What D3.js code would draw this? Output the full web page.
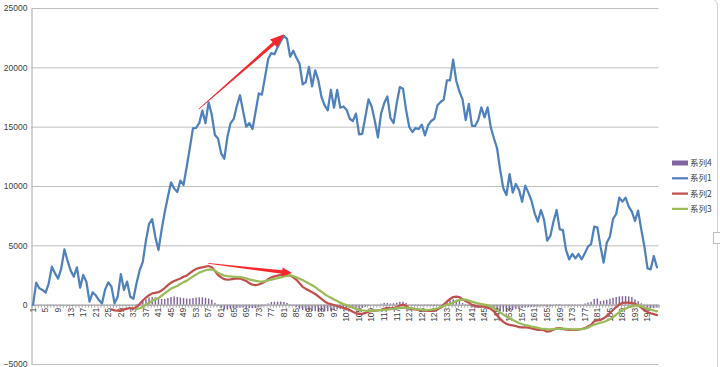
<!DOCTYPE html>
<html>
<head>
<meta charset="utf-8">
<script src="https://cdn.jsdelivr.net/npm/d3@7/dist/d3.min.js"></script>
<style>
body{margin:0;background:#fff}
svg{display:block}
text{font-family:"Liberation Sans",Arial,sans-serif}
</style>
</head>
<body>
<svg id="chart" width="720" height="367"></svg>
<script>
// categories 1..200
var cats = d3.range(1, 201);

// 系列1 (blue), cat 1..200
var s1 = [
0,1850,1380,1240,1010,1800,3200,2640,2190,3060,
4660,3700,2870,2360,3150,1430,2500,1940,250,1040,
790,390,110,1290,1880,1520,110,670,2580,1240,
1940,670,500,1800,2900,3600,5400,6800,7200,5700,
4600,6300,7800,9100,10300,9800,9500,10450,10100,11600,
13200,14850,14900,15300,16350,15300,17050,16000,14300,14000,
12750,12300,14150,15300,15650,16750,17650,16300,15000,15300,
14800,16300,17800,17700,19200,20700,21200,21100,21700,22200,
22650,22400,20900,21400,20800,20300,18570,18760,20030,18400,
19750,18900,17500,16800,16380,18100,16600,18100,16600,16700,
16430,15670,15480,16100,14350,14400,15840,17300,16700,15500,
14100,16100,16970,17550,15730,15300,16970,18340,18200,16380,
14970,14550,14890,14800,15170,14270,15100,15480,15670,16800,
17080,17280,18900,18900,20650,18850,17950,17300,15550,16920,
15060,15060,15560,16630,15790,16630,14940,14020,13180,11350,
9800,9240,11010,9440,10170,9660,8680,10030,9440,8740,
7700,7000,7980,7140,5400,5790,7000,7980,6350,6290,
4610,3820,4270,3900,4270,3820,4330,4890,5110,6570,
6520,4890,3540,5220,5730,7220,7640,9020,8680,9020,
8260,7840,7050,7920,6350,4890,3060,2980,4100,3150
];

// 系列2 (red), starts at cat 26
var s2Start = 26;
var s2 = [
-400,-480,-500,-480,-400,-330,-280,-330,-200,50,
350,600,800,950,1000,1050,1200,1400,1650,1850,
2000,2100,2200,2350,2450,2650,2850,3000,3100,3150,
3200,3260,3150,2850,2500,2300,2150,2100,2130,2180,
2220,2200,2100,2000,1800,1680,1650,1700,1800,1950,
2150,2300,2380,2450,2520,2560,2500,2450,2300,2100,
1800,1500,1330,1200,1050,900,700,480,270,120,
40,-30,-110,-190,-270,-340,-450,-600,-720,-780,
-770,-690,-600,-530,-510,-490,-450,-350,-270,-310,
-270,-220,-60,0,-100,-300,-370,-400,-440,-480,
-500,-520,-520,-500,-400,-250,0,250,480,640,
680,640,450,300,170,-20,-100,-160,-170,-170,
-250,-350,-560,-900,-1200,-1450,-1620,-1710,-1750,-1800,
-1900,-1910,-1920,-1940,-2000,-2060,-2120,-2130,-2150,-2280,
-2230,-2100,-2000,-1970,-2040,-2100,-2130,-2130,-2130,-2100,
-2050,-1980,-1850,-1700,-1400,-1330,-1290,-1150,-950,-700,
-450,-200,20,150,170,170,130,80,-60,-250,
-480,-620,-720,-800,-880
];

// 系列3 (green), starts at cat 34
var s3Start = 34;
var s3 = [
-370,-300,-200,0,150,330,450,550,750,950,
1150,1350,1470,1570,1750,1900,2020,2200,2380,2530,
2700,2800,2900,2950,2980,2870,2700,2550,2450,2400,
2380,2350,2340,2320,2280,2220,2130,2070,2010,1970,
1940,1990,2050,2110,2170,2230,2300,2380,2430,2470,
2400,2300,2180,2070,1920,1790,1640,1480,1270,1090,
880,720,580,430,300,170,60,-40,-150,-260,
-360,-430,-470,-500,-520,-530,-510,-470,-450,-430,
-410,-380,-350,-300,-270,-250,-260,-280,-320,-360,
-390,-410,-430,-450,-420,-380,-300,-200,-110,-20,
60,180,300,380,430,420,350,250,170,100,
50,0,-60,-150,-290,-480,-650,-830,-1000,-1150,
-1300,-1420,-1550,-1650,-1720,-1770,-1840,-1900,-1960,-2020,
-2050,-2070,-2080,-2060,-2040,-2020,-2020,-2040,-2060,-2080,
-2080,-2080,-2070,-2020,-1940,-1800,-1680,-1600,-1520,-1460,
-1350,-1220,-1050,-850,-620,-430,-320,-220,-140,-90,
-60,-140,-240,-330,-420,-490,-560
];

// 系列4 (purple columns), starts at cat 34
var s4Start = 34;
var s4 = [
50,150,300,450,600,650,620,580,480,480,
560,650,700,650,600,560,520,520,560,600,
620,620,580,520,420,150,-100,-300,-400,-420,
-380,-320,-280,-250,-250,-270,-300,-300,-280,-220,
-150,-50,100,220,250,260,260,230,150,50,
-80,-200,-350,-450,-500,-500,-520,-550,-580,-600,
-580,-560,-520,-450,-400,-360,-320,-280,-260,-300,
-330,-320,-280,-180,-80,0,20,30,80,150,
160,100,120,160,250,250,150,-20,-60,-60,
-70,-80,-80,-80,-100,-120,-100,-50,100,250,
380,450,420,330,150,50,-100,-250,-270,-260,
-220,-200,-200,-220,-300,-450,-550,-600,-600,-560,
-450,-380,-350,-280,-230,-200,-180,-170,-160,-130,
-120,-200,-150,-50,50,60,20,-50,-70,-60,
-50,-30,20,100,180,250,480,520,300,350,
420,500,580,650,700,720,720,700,650,450,
300,120,-150,-250,-300,-300,-250
];

var yTicks = [-5000, 0, 5000, 10000, 15000, 20000, 25000];
var xLabelCats = cats.filter(function(c){ return (c - 1) % 4 == 0; });
var legendNames = ["系列4", "系列1", "系列2", "系列3"];
var legendColors = ["#8064A2", "#4F81BD", "#C0504D", "#9BBB59"];

// red arrows drawn on the chart: [cat, value] start and end
var arrowFrom = [[53.9, 16490], [56.9, 3480]];
var arrowTo   = [[81.1, 22780], [83.6, 2660]];

var svg = d3.select("#chart");

var plotL = 31.5, plotR = 658.5, plotT = 8, plotB = 364;

var x = d3.scaleLinear().domain([0.5, 200.5]).range([plotL, plotR]);
var xb = d3.scaleBand().domain(cats).range([plotL, plotR]).paddingInner(0.55).paddingOuter(0.275);
var y = d3.scaleLinear().domain([-5000, 25000]).range([plotB, plotT]);

// chart border
svg.append("rect")
	.attr("x", -10).attr("y", -2)
	.attr("width", 727.5).attr("height", 380)
	.attr("rx", 8)
	.attr("fill", "none")
	.attr("stroke", "#D0D0D0");
svg.append("rect")
	.attr("x", 713.5).attr("y", 232.5)
	.attr("width", 8).attr("height", 11)
	.attr("fill", "#fff")
	.attr("stroke", "#BFBFBF");

// gridlines
svg.append("g")
	.attr("transform", "translate(" + plotL + ",0)")
	.call(d3.axisLeft(y).tickValues(yTicks).tickSize(-(plotR - plotL)).tickFormat(""))
	.call(function(g){
		g.select(".domain").remove();
		g.selectAll("line").attr("stroke", "#BEBEBE").attr("stroke-width", 1);
	});

// y axis labels + line
svg.append("g")
	.attr("transform", "translate(" + plotL + ",0)")
	.call(d3.axisLeft(y).tickValues(yTicks).tickSize(0).tickPadding(4).tickFormat(d3.format("d")))
	.call(function(g){
		g.select(".domain").attr("stroke", "#A6A6A6");
		g.selectAll("text").attr("fill", "#404040").style("font-size", "8.5px");
	});

// columns
svg.append("g")
	.selectAll("rect")
	.data(s4)
	.enter()
	.append("rect")
	.attr("x", function(d, i){ return xb(i + s4Start); })
	.attr("width", xb.bandwidth())
	.attr("y", function(d){ return y(Math.max(0, d)); })
	.attr("height", function(d){ return Math.abs(y(d) - y(0)); })
	.attr("fill", "#8064A2");

// category axis at zero
var ticksAll = d3.range(0.5, 201, 1);
svg.append("g")
	.attr("transform", "translate(0," + y(0) + ")")
	.call(d3.axisBottom(x).tickValues(ticksAll).tickSize(3).tickFormat(""))
	.call(function(g){
		g.select(".domain").attr("stroke", "#A6A6A6");
		g.selectAll("line").attr("stroke", "#A6A6A6");
	});

svg.append("g")
	.selectAll("text")
	.data(xLabelCats)
	.enter()
	.append("text")
	.attr("transform", function(d){ return "translate(" + x(d) + "," + (y(0) + 3) + ") rotate(-90)"; })
	.attr("dy", "0.33em")
	.attr("text-anchor", "end")
	.attr("fill", "#404040")
	.style("font-size", "8.5px")
	.text(function(d){ return d; });

// lines
function drawLine(vals, start, color, w){
	var line = d3.line()
		.x(function(d, i){ return x(i + start); })
		.y(function(d){ return y(d); });
	svg.append("path")
		.datum(vals)
		.attr("d", line)
		.attr("fill", "none")
		.attr("stroke", color)
		.attr("stroke-width", w)
		.attr("stroke-linejoin", "round")
		.attr("stroke-linecap", "round");
}
drawLine(s1, 1, "#4F81BD", 2.25);
drawLine(s2, s2Start, "#C0504D", 2.25);
drawLine(s3, s3Start, "#9BBB59", 2.25);

// arrows
function arrowPath(x0, y0, x1, y1, w0, w1, hl, hw){
	var dx = x1 - x0, dy = y1 - y0;
	var L = Math.sqrt(dx * dx + dy * dy);
	var ux = dx / L, uy = dy / L, nx = -uy, ny = ux;
	var bx = x1 - ux * hl, by = y1 - uy * hl;
	var pts = [
		[x0 + nx * w0 / 2, y0 + ny * w0 / 2],
		[bx + nx * w1 / 2, by + ny * w1 / 2],
		[bx + nx * hw, by + ny * hw],
		[x1, y1],
		[bx - nx * hw, by - ny * hw],
		[bx - nx * w1 / 2, by - ny * w1 / 2],
		[x0 - nx * w0 / 2, y0 - ny * w0 / 2]
	];
	return "M" + pts.map(function(p){ return p[0].toFixed(2) + "," + p[1].toFixed(2); }).join("L") + "Z";
}
var heads = [[14, 5.5], [10, 4.5]];
arrowFrom.forEach(function(a, i){
	var b = arrowTo[i];
	svg.append("path")
		.attr("d", arrowPath(x(a[0]), y(a[1]), x(b[0]), y(b[1]), 0.8, 3.4, heads[i][0], heads[i][1]))
		.attr("fill", "#F5282D");
});

// legend
var lg = svg.append("g");
legendNames.forEach(function(n, i){
	var ly = 163 + i * 15.3;
	if (i == 0) {
		lg.append("rect")
			.attr("x", 672).attr("y", ly - 2.5)
			.attr("width", 16).attr("height", 5)
			.attr("fill", legendColors[i]);
	} else {
		lg.append("line")
			.attr("x1", 672).attr("x2", 688)
			.attr("y1", ly).attr("y2", ly)
			.attr("stroke", legendColors[i])
			.attr("stroke-width", 2.25);
	}
	lg.append("text")
		.attr("x", 690).attr("y", ly)
		.attr("dy", "0.35em")
		.attr("fill", "#404040")
		.style("font-family", "'Noto Sans CJK SC',sans-serif")
		.style("font-size", "8.5px")
		.text(n);
});
</script>
</body>
</html>
